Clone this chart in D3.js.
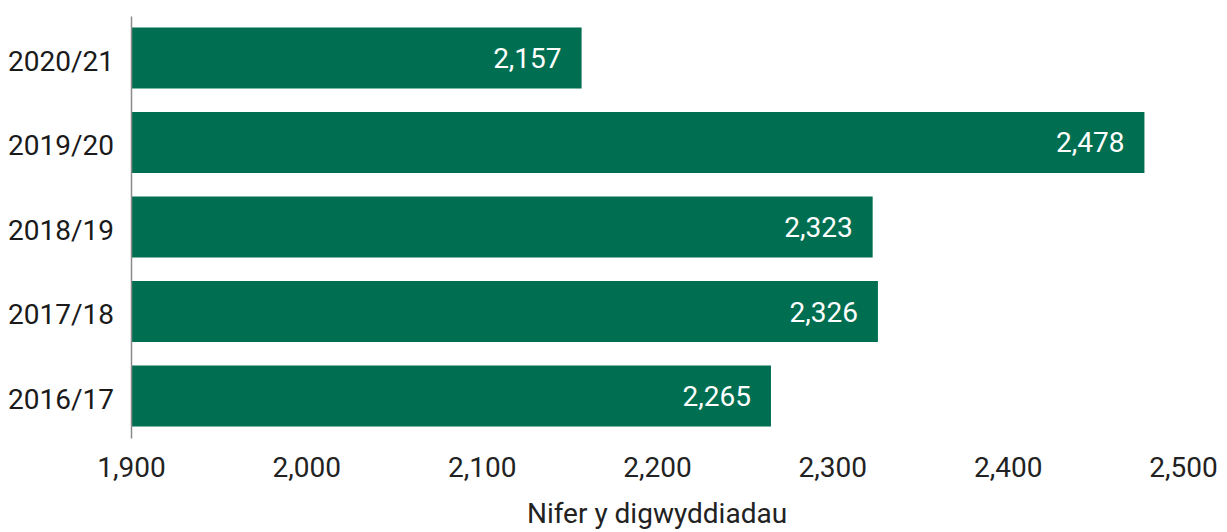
<!DOCTYPE html>
<html><head><meta charset="utf-8">
<script src="https://cdn.jsdelivr.net/npm/d3@7"></script>
<style>
html,body{margin:0;padding:0;background:#fff;}
text{font-family:Roboto, sans-serif;}
</style></head>
<body>
<svg id="chart" width="1227" height="532"></svg>
<script>
const categories = ["2020/21", "2019/20", "2018/19", "2017/18", "2016/17"];
const values = [2157, 2478, 2323, 2326, 2265];
const xTicks = [1900, 2000, 2100, 2200, 2300, 2400, 2500];
const xTitle = "Nifer y digwyddiadau";

const svg = d3.select("#chart");
const x = d3.scaleLinear().domain([1900, 2500]).range([131, 1183]);
const y = d3.scaleBand().domain(categories).range([16, 438]).paddingInner(0.278).paddingOuter(0.136);
const fmt = d3.format(",");
const color = "#006F51";
const fontSize = 28;

svg.selectAll("rect.bar").data(values).enter().append("rect")
  .attr("class", "bar")
  .attr("x", x(1900))
  .attr("y", (d, i) => y(categories[i]))
  .attr("width", d => x(d) - x(1900))
  .attr("height", y.bandwidth())
  .attr("fill", color);

svg.selectAll("text.val").data(values).enter().append("text")
  .attr("class", "val")
  .attr("x", d => x(d) - 20)
  .attr("y", (d, i) => y(categories[i]) + y.bandwidth() / 2 + 10)
  .attr("text-anchor", "end")
  .attr("fill", "#fff")
  .attr("font-size", fontSize)
  .text(d => fmt(d));

// y axis
const yAxis = svg.append("g").attr("transform", `translate(${x(1900)},0)`)
  .call(d3.axisLeft(y).tickSize(0).tickPadding(17));
yAxis.select(".domain").attr("stroke", "#8a8a8a").attr("stroke-width", 1.5);
yAxis.selectAll("text").attr("font-size", fontSize).attr("fill", "#1a1a1a")
  .attr("font-family", "Roboto, sans-serif").attr("dy", "0.45em");

// x axis (labels only)
const xAxis = svg.append("g").attr("transform", `translate(0,438)`)
  .call(d3.axisBottom(x).tickValues(xTicks).tickFormat(fmt).tickSize(0).tickPadding(14));
xAxis.select(".domain").remove();
xAxis.selectAll("text").attr("font-size", fontSize).attr("fill", "#222")
  .attr("font-family", "Roboto, sans-serif").attr("dy", "0.9em");

svg.append("text")
  .attr("x", (x(1900) + x(2500)) / 2)
  .attr("y", 523)
  .attr("text-anchor", "middle")
  .attr("font-size", fontSize)
  .attr("fill", "#222")
  .text(xTitle);
</script>
</body></html>
